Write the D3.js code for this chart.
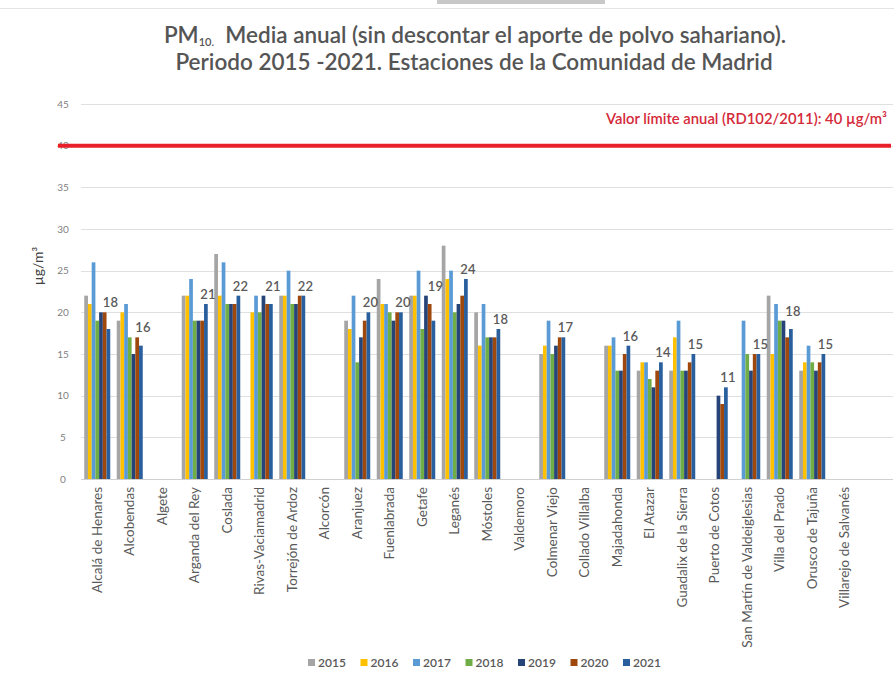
<!DOCTYPE html>
<html><head><meta charset="utf-8">
<script src="https://cdn.jsdelivr.net/npm/d3@7"></script>
<style>body{margin:0;background:#fff;overflow:hidden}</style>
</head><body><svg id="c" width="894" height="677"></svg>
<script>
const stations = ["Alcalá de Henares","Alcobendas","Algete","Arganda del Rey","Coslada","Rivas-Vaciamadrid","Torrejón de Ardoz","Alcorcón","Aranjuez","Fuenlabrada","Getafe","Leganés","Móstoles","Valdemoro","Colmenar Viejo","Collado Villalba","Majadahonda","El Atazar","Guadalix de la Sierra","Puerto de Cotos","San Martín de Valdeiglesias","Villa del Prado","Orusco de Tajuña","Villarejo de Salvanés"];
const years = ["2015","2016","2017","2018","2019","2020","2021"];
const v2015 = [22,19,null,22,27,null,22,null,19,24,22,28,20,null,15,null,16,13,13,null,null,22,13,null];
const v2016 = [21,20,null,22,22,20,22,null,18,21,22,24,16,null,16,null,16,14,17,null,null,15,14,null];
const v2017 = [26,21,null,24,26,22,25,null,22,21,25,25,21,null,19,null,17,14,19,null,19,21,16,null];
const v2018 = [19,17,null,19,21,20,21,null,14,20,18,20,17,null,15,null,13,12,13,null,15,19,14,null];
const v2019 = [20,15,null,19,21,22,21,null,17,19,22,21,17,null,16,null,13,11,13,10,13,19,13,null];
const v2020 = [20,17,null,19,21,21,22,null,19,20,21,22,17,null,17,null,15,13,14,9,15,17,14,null];
const v2021 = [18,16,null,21,22,21,22,null,20,20,19,24,18,null,17,null,16,14,15,11,15,18,15,null];
const series = [v2015,v2016,v2017,v2018,v2019,v2020,v2021];
const colors = ["#a5a5a5","#ffc000","#5b9bd5","#70ad47","#264478","#9e480e","#2a5f9e"];
const yTicks = [0,5,10,15,20,25,30,35,40,45];
const limitValue = 40;
const limitLabel = "Valor límite anual (RD102/2011): 40 µg/m³";

const svg = d3.select("#c");
const pLeft = 81, pRight = 861, gridRight = 893, pTop = 104, pBottom = 479;
const FONT = "Lato, 'Open Sans', sans-serif";

const x = d3.scaleBand().domain(stations).range([pLeft, pRight]).paddingInner(0.2).paddingOuter(0.1);
const xi = d3.scaleBand().domain(years).range([0, x.bandwidth()]);
const y = d3.scaleLinear().domain([0,45]).range([pBottom, pTop]);

// top artifact
svg.append("rect").attr("x",437).attr("y",0).attr("width",168).attr("height",4).attr("fill","#c8c8c8");
svg.append("line").attr("x1",0).attr("x2",894).attr("y1",8.5).attr("y2",8.5).attr("stroke","#e4e4e4");

// title
const title = svg.append("text").attr("x",475).attr("y",43).attr("text-anchor","middle")
  .attr("font-family",FONT).attr("font-size",22.5).attr("font-weight",600).attr("fill","#555555");
title.append("tspan").text("PM");
title.append("tspan").attr("font-size",11).attr("dy",3).text("10.");
title.append("tspan").attr("dy",-3).text("\u00A0\u00A0Media anual (sin descontar el aporte de polvo sahariano).");
svg.append("text").attr("x",474).attr("y",70).attr("text-anchor","middle")
  .attr("font-family",FONT).attr("font-size",22.5).attr("font-weight",600).attr("fill","#555555")
  .text("Periodo 2015 -2021. Estaciones de la Comunidad de Madrid");

// gridlines
svg.append("g").selectAll("line").data(yTicks).join("line")
  .attr("x1",pLeft).attr("x2",gridRight).attr("y1",d=>Math.round(y(d))+0.5).attr("y2",d=>Math.round(y(d))+0.5)
  .attr("stroke",d=>d===0?"#d0d0d0":"#e0e0e0").attr("stroke-width",1);

// y axis labels
const yAxis = d3.axisLeft(y).tickValues(yTicks).tickSize(0).tickPadding(0);
const ga = svg.append("g").attr("transform",`translate(68,0)`).call(yAxis);
ga.select(".domain").remove();
ga.selectAll("text").attr("font-family",FONT).attr("font-size",10).attr("fill","#808080").attr("text-anchor","middle").attr("dx",-5);

// y title
svg.append("text").attr("transform","translate(43,266) rotate(-90)").attr("text-anchor","middle")
  .attr("font-family",FONT).attr("font-size",14).attr("fill","#404040").text("µg/m³");

// bars
const groups = svg.append("g").selectAll("g").data(stations).join("g")
  .attr("transform",d=>`translate(${x(d)},0)`);
groups.selectAll("rect").data((d,i)=>years.map((yr,k)=>({yr,k,v:series[k][i]})).filter(o=>o.v!=null)).join("rect")
  .attr("x",o=>xi(o.yr)).attr("width",xi.bandwidth()).attr("y",o=>y(o.v)).attr("height",o=>y(0)-y(o.v))
  .attr("fill",o=>colors[o.k]);

// value labels (2021)
svg.append("g").selectAll("text").data(stations.map((s,i)=>({s,i})).filter(o=>v2021[o.i]!=null)).join("text")
  .attr("x",o=>x(o.s)+xi("2021")+xi.bandwidth()/2+2)
  .attr("y",o=>y(Math.max(v2019[o.i]||0,v2020[o.i]||0,v2021[o.i]))-5)
  .attr("text-anchor","middle").attr("font-family",FONT).attr("font-size",13).attr("font-weight",600)
  .attr("fill","#5a5a5a").text(o=>v2021[o.i]);

// limit line
svg.append("line").attr("x1",58).attr("x2",891).attr("y1",y(limitValue)).attr("y2",y(limitValue))
  .attr("stroke","#e8202a").attr("stroke-width",4);
svg.append("text").attr("x",887).attr("y",124).attr("text-anchor","end")
  .attr("font-family",FONT).attr("font-size",14.8).attr("font-weight",600).attr("fill","#d42a3a").text(limitLabel);

// x labels
const xAxis = d3.axisBottom(x).tickSize(0).tickPadding(0);
const gx = svg.append("g").attr("transform",`translate(0,${pBottom})`).call(xAxis);
gx.select(".domain").remove();
gx.selectAll("text").attr("font-family",FONT).attr("font-size",13.5).attr("fill","#595959")
  .attr("text-anchor","end").attr("transform","translate(0,8) rotate(-90)").attr("dy","0.35em").attr("dx",0).attr("y",0).attr("x",0);

// legend
const lg = svg.append("g").selectAll("g").data(years).join("g").attr("transform",(d,i)=>`translate(${308+i*52.5},663)`);
lg.append("rect").attr("x",0).attr("y",-4).attr("width",7).attr("height",7).attr("fill",(d,i)=>colors[i]);
lg.append("text").attr("x",10).attr("y",0).attr("dy","0.35em").attr("font-family",FONT)
  .attr("font-size",12).attr("font-weight",600).attr("fill","#595959").text(d=>d);
</script></body></html>
